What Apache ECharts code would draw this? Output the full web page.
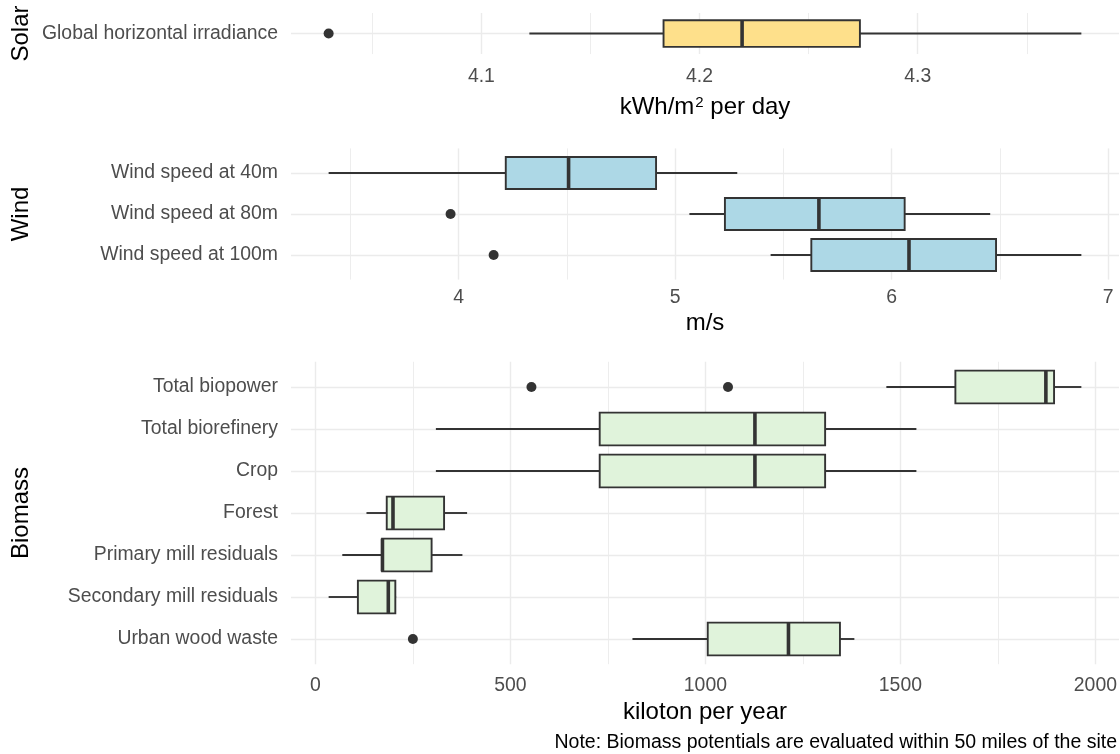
<!DOCTYPE html>
<html><head><meta charset="utf-8">
<script src="https://cdn.jsdelivr.net/npm/echarts@6/dist/echarts.min.js"></script>
<style>html,body{margin:0;padding:0;background:#fff}#c{width:1120px;height:754px}</style>
</head><body><div id="c"></div>
<script>
// ---- data (min, q1, median, q3, max) ----
const solarCategories = ['Global horizontal irradiance'];
const solarBoxes = [[4.122, 4.1835, 4.2195, 4.2735, 4.375]];
const solarOutliers = [[4.030, 0]];
const solarTickStep = 0.1;

const windCategories = ['Wind speed at 40m', 'Wind speed at 80m', 'Wind speed at 100m'];
const windBoxes = [
  [3.40, 4.218, 4.508, 4.912, 5.287],
  [5.066, 5.230, 5.664, 6.060, 6.455],
  [5.441, 5.629, 6.080, 6.482, 6.876]
];
const windOutliers = [[3.963, 1], [4.162, 2]];
const windTickStep = 1;

const biomassCategories = ['Total biopower', 'Total biorefinery', 'Crop', 'Forest',
  'Primary mill residuals', 'Secondary mill residuals', 'Urban wood waste'];
const biomassBoxes = [
  [1464, 1641, 1873, 1894, 1964],
  [309, 729, 1127, 1307, 1541],
  [309, 729, 1127, 1307, 1541],
  [131, 183, 199, 330, 389],
  [69, 171, 172, 298, 377],
  [34, 109, 187, 205, 207],
  [813, 1006, 1213, 1345, 1382]
];
const biomassOutliers = [[554, 0], [1058, 0], [250, 6]];
const biomassTickStep = 500;

const noteText = 'Note: Biomass potentials are evaluated within 50 miles of the site';

// ---- styling / layout ----
const FONT = 'Liberation Sans';
const GRID_COLOR = '#EBEBEB';
const TEXT_SIZE = 19.4;
const panels = [
  {cats: solarCategories, boxes: solarBoxes, outliers: solarOutliers, step: solarTickStep,
   fill: '#FEE08B', title: 'kWh/m{sup|2} per day', strip: 'Solar',
   top: 13, sp: 34.2, labelMargin: 13, nameGap: 41},
  {cats: windCategories, boxes: windBoxes, outliers: windOutliers, step: windTickStep,
   fill: '#ADD8E6', title: 'm/s', strip: 'Wind',
   top: 148.4, sp: 41, labelMargin: 9, nameGap: 32},
  {cats: biomassCategories, boxes: biomassBoxes, outliers: biomassOutliers, step: biomassTickStep,
   fill: '#E0F3DB', title: 'kiloton per year', strip: 'Biomass',
   top: 361.8, sp: 42, labelMargin: 12, nameGap: 36}
];

function boxRenderer(fill) {
  return function (params, api) {
    const c = api.value(0);
    const p = [1, 2, 3, 4, 5].map(d => api.coord([api.value(d), c]));
    const band = api.size([0, 1])[1];
    const h = band * 0.78;
    const y = p[0][1];
    const ls = {stroke: '#333333', lineWidth: 1.9};
    return {type: 'group', children: [
      {type: 'line', shape: {x1: p[0][0], y1: y, x2: p[1][0], y2: y}, style: ls},
      {type: 'line', shape: {x1: p[3][0], y1: y, x2: p[4][0], y2: y}, style: ls},
      {type: 'rect', shape: {x: p[1][0], y: y - h / 2, width: p[3][0] - p[1][0], height: h},
       style: {fill: fill, stroke: '#333333', lineWidth: 1.9}},
      {type: 'line', shape: {x1: p[2][0], y1: y - h / 2, x2: p[2][0], y2: y + h / 2},
       style: {stroke: '#333333', lineWidth: 3.6}}
    ]};
  };
}

const option = {animation: false, backgroundColor: '#ffffff',
  grid: [], xAxis: [], yAxis: [], series: [], graphic: []};

panels.forEach((p, k) => {
  const n = p.cats.length;
  const H = (n + 0.2) * p.sp;
  const all = p.boxes.flat().concat(p.outliers.map(o => o[0]));
  const lo = Math.min(...all), hi = Math.max(...all), pad = (hi - lo) * 0.05;
  const xmin = lo - pad, xmax = hi + pad;
  const ga = 2 * k, gb = 2 * k + 1;
  option.grid.push({left: 291, right: 1, top: p.top, height: H});
  option.grid.push({left: 291, right: 1, top: p.top + 0.1 * p.sp, height: n * p.sp});
  option.xAxis.push({
    type: 'value', gridIndex: ga, min: xmin, max: xmax,
    minInterval: p.step, maxInterval: p.step,
    axisLine: {show: false}, axisTick: {show: false},
    axisLabel: {color: '#4D4D4D', fontSize: TEXT_SIZE, fontFamily: FONT, margin: p.labelMargin,
      showMinLabel: false, showMaxLabel: false, formatter: v => String(v)},
    splitLine: {show: true, showMinLine: false, showMaxLine: false,
      lineStyle: {color: GRID_COLOR, width: 1.4}},
    minorTick: {show: false, splitNumber: 2},
    minorSplitLine: {show: true, lineStyle: {color: GRID_COLOR, width: 0.9}},
    name: p.title, nameLocation: 'middle', nameGap: p.nameGap,
    nameTextStyle: {color: '#000000', fontSize: 24, fontFamily: FONT,
      rich: {sup: {fontSize: 15, fontFamily: FONT, color: '#000000', verticalAlign: 'top', padding: [0, 0, 0, 1]}}}
  });
  option.xAxis.push({type: 'value', gridIndex: gb, min: xmin, max: xmax, show: false});
  option.yAxis.push({
    type: 'value', gridIndex: ga, min: -0.6, max: n - 0.4, inverse: true,
    minInterval: 1, maxInterval: 1,
    axisLine: {show: false}, axisTick: {show: false}, axisLabel: {show: false},
    splitLine: {show: true, showMinLine: false, showMaxLine: false,
      lineStyle: {color: GRID_COLOR, width: 1.4}}
  });
  option.yAxis.push({
    type: 'category', gridIndex: gb, data: p.cats, inverse: true,
    axisLine: {show: false}, axisTick: {show: false}, splitLine: {show: false},
    axisLabel: {color: '#4D4D4D', fontSize: TEXT_SIZE, fontFamily: FONT, margin: 13}
  });
  option.series.push({
    type: 'custom', xAxisIndex: gb, yAxisIndex: gb, z: 3,
    data: p.boxes.map((b, i) => [i].concat(b)),
    encode: {x: [1, 2, 3, 4, 5], y: 0},
    renderItem: boxRenderer(p.fill)
  });
  option.series.push({
    type: 'scatter', xAxisIndex: gb, yAxisIndex: gb, z: 4,
    data: p.outliers, symbolSize: 10, itemStyle: {color: '#333333', opacity: 1}
  });
  option.graphic.push({
    type: 'text', x: 21, y: p.top + H / 2, rotation: Math.PI / 2,
    style: {text: p.strip, font: '24px "' + FONT + '"', fill: '#000000',
      align: 'center', verticalAlign: 'middle'}
  });
});

option.graphic.push({
  type: 'text', x: 1117, y: 743,
  style: {text: noteText, font: '19.5px "' + FONT + '"', fill: '#000000',
    align: 'right', verticalAlign: 'middle'}
});

const chart = echarts.init(document.getElementById('c'), null, {renderer: 'canvas'});
chart.setOption(option);
</script>
</body></html>
